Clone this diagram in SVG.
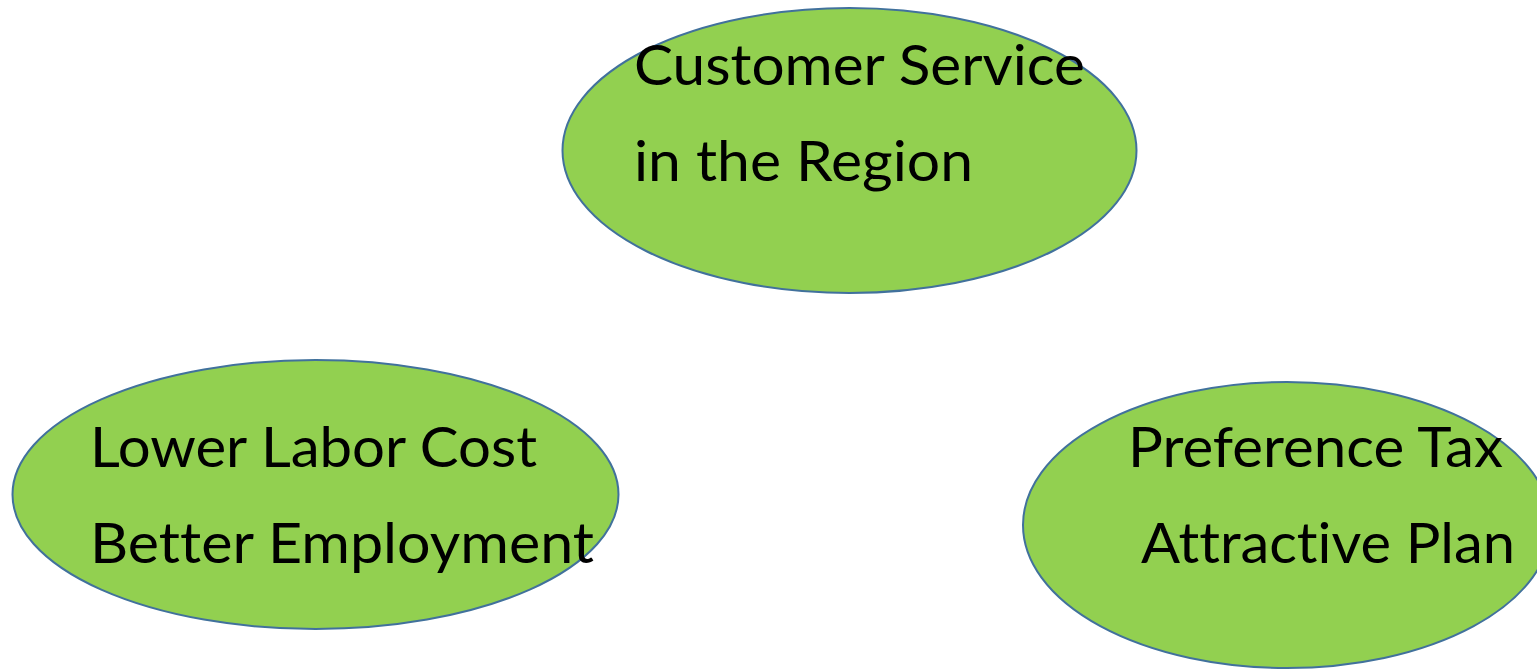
<svg xmlns="http://www.w3.org/2000/svg" width="1537" height="669" viewBox="0 0 1537 669">
<style>
.node{fill:#92D050;stroke:#41719C;stroke-width:2}
.lbl{font-family:Lato,"Open Sans","Liberation Sans",sans-serif;font-size:57px;fill:#000;font-variant-ligatures:none;font-feature-settings:"liga" 0,"clig" 0}
</style>
<rect width="1537" height="669" fill="#fff"/>
<g id="connectors"/>
<g id="node-customer-service">
<ellipse class="node" cx="849.5" cy="150.5" rx="287" ry="142.5"/>
<text class="lbl" x="634" y="85" textLength="451" lengthAdjust="spacingAndGlyphs">Customer Service</text>
<text class="lbl" x="634" y="181" textLength="339" lengthAdjust="spacingAndGlyphs">in the Region</text>
</g>
<g id="node-labor">
<ellipse class="node" cx="315.5" cy="494.5" rx="303" ry="134.5"/>
<text class="lbl" x="90" y="467" textLength="447" lengthAdjust="spacingAndGlyphs">Lower Labor Cost</text>
<text class="lbl" x="90" y="563" textLength="504" lengthAdjust="spacingAndGlyphs">Better Employment</text>
</g>
<g id="node-tax">
<ellipse class="node" cx="1287" cy="525" rx="264" ry="143"/>
<text class="lbl" x="1128" y="467" textLength="375" lengthAdjust="spacingAndGlyphs">Preference Tax</text>
<text class="lbl" x="1141" y="563" textLength="374" lengthAdjust="spacingAndGlyphs">Attractive Plan</text>
</g>
</svg>
